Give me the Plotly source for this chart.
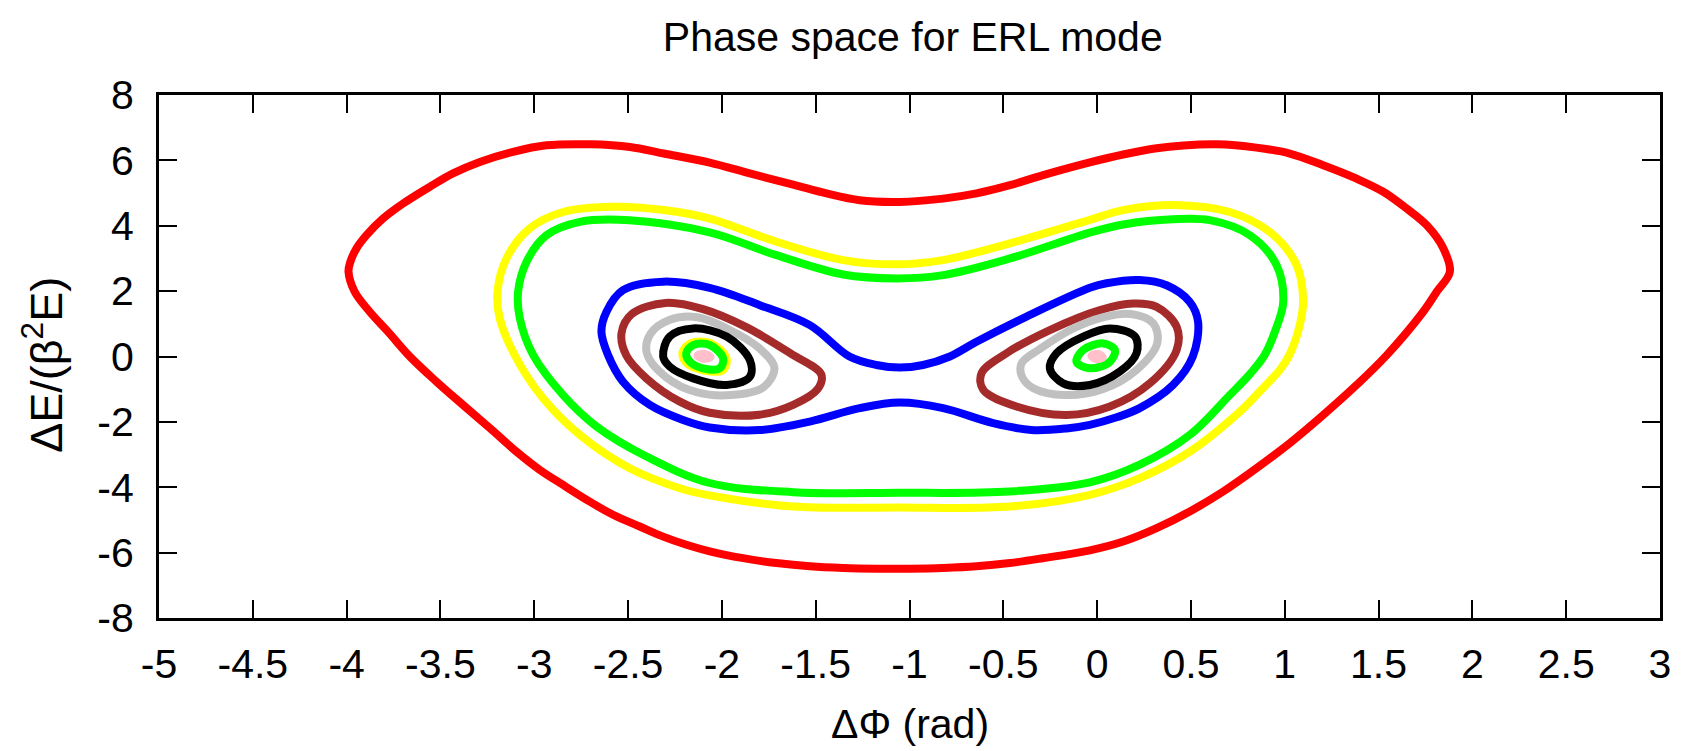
import plotly.graph_objects as go

# ---- data (phase-space trajectories) ----
red_x = [-3.99, -3.98, -3.948, -3.894, -3.806, -3.699, -3.557, -3.433, -3.29, -3.113, -2.935, -2.70, -2.49, -2.31, -2.065,
         -1.851, -1.62, -1.443, -1.265, -1.052, -0.821, -0.643, -0.465, -0.288, -0.039,
         0.139, 0.317, 0.459, 0.636, 0.849, 1.027, 1.205, 1.383, 1.525, 1.649, 1.756, 1.845, 1.88,
         1.81, 1.738, 1.54, 1.383, 1.205, 1.027, 0.849, 0.672, 0.494, 0.317, 0.139, -0.039,
         -0.288, -0.465, -0.643, -0.821, -0.998, -1.176, -1.354, -1.531, -1.709, -1.887, -2.065,
         -2.189, -2.313, -2.438, -2.58, -2.704, -2.846, -2.97, -3.095, -3.237, -3.38, -3.521, -3.66,
         -3.78, -3.877, -3.957, -3.99]
red_y = [2.59, 2.90, 3.30, 3.71, 4.22, 4.68, 5.19, 5.60, 5.95, 6.26, 6.46, 6.49, 6.41, 6.21, 5.93,
         5.60, 5.26, 4.99, 4.78, 4.73, 4.83, 4.99, 5.24, 5.55, 5.94,
         6.18, 6.37, 6.455, 6.49, 6.39, 6.21, 5.85, 5.44, 5.04, 4.53, 4.02, 3.31, 2.59,
         1.98, 1.37, 0.02, -0.87, -1.79, -2.65, -3.42, -4.13, -4.74, -5.25, -5.66, -5.93,
         -6.17, -6.32, -6.42, -6.47, -6.49, -6.49, -6.47, -6.42, -6.32, -6.17, -5.96,
         -5.76, -5.51, -5.20, -4.84, -4.44, -3.93, -3.47, -2.91, -2.19, -1.48, -0.77, -0.02,
         0.76, 1.37, 1.98, 2.59]

yellow_x = [-3.196, -3.148, -3.024, -2.846, -2.58, -2.31, -2.065, -1.709, -1.354, -1.07, -0.821, -0.465, -0.039, 0.139, 0.44, 0.707, 0.92, 1.063, 1.098, 1.075, 1.025, 0.975, 0.87, 0.76, 0.494, 0.227, -0.039, -0.465, -1.052, -1.62, -2.065, -2.224, -2.491, -2.757, -2.953, -3.10, -3.184, -3.196]
yellow_y = [1.98, 3.00, 3.92, 4.42, 4.58, 4.48, 4.22, 3.51, 2.95, 2.82, 2.95, 3.46, 4.18, 4.48, 4.63, 4.42, 3.81, 2.80, 1.67, 0.85, 0.05, -0.40, -1.05, -1.69, -2.91, -3.72, -4.23, -4.59, -4.62, -4.59, -4.25, -4.03, -3.42, -2.40, -1.28, 0.00, 1.17, 1.98]

green_x = [-3.086, -3.041, -2.935, -2.757, -2.491, -2.065, -1.709, -1.354, -1.07, -0.821, -0.465, -0.039, 0.139, 0.405, 0.601, 0.814, 0.956, 0.992, 0.95, 0.893, 0.82, 0.707, 0.494, 0.227, -0.039, -0.465, -1.052, -1.62, -2.065, -2.402, -2.668, -2.846, -3.006, -3.077, -3.086]
green_y = [1.98, 2.90, 3.71, 4.12, 4.17, 3.80, 3.10, 2.51, 2.39, 2.49, 3.00, 3.79, 4.04, 4.20, 4.17, 3.71, 2.80, 1.67, 0.80, 0.05, -0.50, -1.18, -2.40, -3.31, -3.85, -4.13, -4.17, -4.15, -3.87, -3.06, -2.14, -1.18, 0.05, 1.17, 1.98]

blue_x = [-2.313, -2.065, -1.798, -1.531, -1.32, -1.176, -1.052, -0.928, -0.785, -0.643, -0.376, -0.039, 0.05, 0.227, 0.37, 0.494, 0.538, 0.51, 0.405, 0.227, 0.104, -0.039, -0.163, -0.35, -0.554, -0.821, -1.052, -1.265, -1.531, -1.798, -2.065, -2.207, -2.384, -2.527, -2.607, -2.642, -2.615, -2.527, -2.313]
blue_y = [2.29, 2.10, 1.57, 0.96, 0.00, -0.26, -0.34, -0.26, 0.00, 0.45, 1.22, 2.10, 2.24, 2.34, 2.18, 1.67, 1.06, 0.00, -0.87, -1.58, -1.86, -2.09, -2.20, -2.25, -2.04, -1.58, -1.41, -1.58, -1.99, -2.25, -2.17, -1.94, -1.48, -0.77, 0.05, 0.76, 1.37, 2.03, 2.29]

brown_l_x = [-2.30, -2.10, -1.87, -1.63, -1.47, -1.49, -1.62, -1.80, -2.065, -2.224, -2.402, -2.509, -2.535, -2.48, -2.30]
brown_l_y = [1.64, 1.45, 0.90, 0.08, -0.55, -1.00, -1.48, -1.78, -1.72, -1.38, -0.67, 0.03, 0.71, 1.30, 1.64]
brown_r_x = [-0.616, -0.483, -0.252, 0.015, 0.192, 0.317, 0.424, 0.424, 0.281, 0.068, -0.163, -0.43, -0.607, -0.616]
brown_r_y = [-0.51, 0.10, 0.81, 1.42, 1.62, 1.52, 0.91, 0.20, -0.82, -1.53, -1.79, -1.53, -1.02, -0.51]

gray_l_x = [-2.40, -2.38, -2.28, -2.13, -1.97, -1.80, -1.72, -1.78, -1.95, -2.13, -2.30, -2.40]
gray_l_y = [0.10, 0.70, 1.12, 1.20, 0.85, 0.25, -0.35, -0.95, -1.18, -1.10, -0.62, 0.10]
gray_r_x = [-0.403, -0.30, -0.13, 0.03, 0.18, 0.30, 0.32, 0.21, 0.03, -0.17, -0.34, -0.40, -0.403]
gray_r_y = [-0.21, 0.25, 0.85, 1.20, 1.30, 1.01, 0.40, -0.41, -1.00, -1.18, -0.97, -0.62, -0.21]

black_l_x = [-2.313, -2.278, -2.153, -1.975, -1.851, -1.851, -1.975, -2.153, -2.278, -2.313]
black_l_y = [0.00, 0.61, 0.86, 0.61, -0.11, -0.62, -0.87, -0.67, -0.31, 0.00]
black_r_x = [-0.216, -0.074, 0.068, 0.202, 0.21, 0.121, -0.039, -0.181, -0.252, -0.216]
black_r_y = [0.10, 0.61, 0.86, 0.61, 0.10, -0.46, -0.87, -0.82, -0.36, 0.10]

yellow_s_x = [-2.21, -2.165, -2.06, -1.975, -1.995, -2.10, -2.19, -2.21]
yellow_s_y = [0.12, 0.41, 0.41, -0.06, -0.42, -0.42, -0.19, 0.12]
green_sl_x = [-2.19, -2.153, -2.065, -1.993, -2.011, -2.10, -2.17, -2.19]
green_sl_y = [0.10, 0.35, 0.35, -0.06, -0.36, -0.36, -0.16, 0.10]
green_sr_x = [-0.11, -0.074, 0.033, 0.095, 0.068, -0.039, -0.11]
green_sr_y = [-0.16, 0.20, 0.40, 0.20, -0.16, -0.36, -0.16]

pink_l_x = [-2.13, -2.09, -2.06, -2.10, -2.13]
pink_l_y = [0.03, 0.08, -0.02, -0.07, 0.03]
pink_r_x = [-0.03, 0.01, 0.03, -0.01, -0.03]
pink_r_y = [0.03, 0.07, -0.03, -0.07, 0.03]

x_tick_vals = [-5, -4.5, -4, -3.5, -3, -2.5, -2, -1.5, -1, -0.5, 0, 0.5, 1, 1.5, 2, 2.5, 3]
x_tick_text = ["-5", "-4.5", "-4", "-3.5", "-3", "-2.5", "-2", "-1.5", "-1", "-0.5", "0", "0.5", "1", "1.5", "2", "2.5", "3"]
y_tick_vals = [-8, -6, -4, -2, 0, 2, 4, 6, 8]
y_tick_text = ["-8", "-6", "-4", "-2", "0", "2", "4", "6", "8"]

curves = [
    (red_x, red_y, "#ff0000"),
    (yellow_x, yellow_y, "#ffff00"),
    (green_x, green_y, "#00ff00"),
    (blue_x, blue_y, "#0000ff"),
    (brown_l_x, brown_l_y, "#a52a2a"),
    (brown_r_x, brown_r_y, "#a52a2a"),
    (gray_l_x, gray_l_y, "#c0c0c0"),
    (gray_r_x, gray_r_y, "#c0c0c0"),
    (black_l_x, black_l_y, "#000000"),
    (black_r_x, black_r_y, "#000000"),
    (yellow_s_x, yellow_s_y, "#ffff00"),
    (green_sl_x, green_sl_y, "#00ff00"),
    (green_sr_x, green_sr_y, "#00ff00"),
    (pink_l_x, pink_l_y, "#ffc0cb"),
    (pink_r_x, pink_r_y, "#ffc0cb"),
]

fig = go.Figure()
for cx, cy, col in curves:
    fig.add_trace(go.Scatter(x=cx, y=cy, mode="lines",
                             line=dict(color=col, width=8, shape="spline", smoothing=1.0),
                             showlegend=False, hoverinfo="skip"))

FONT = "Liberation Sans, Arial, sans-serif"
axis_common = dict(showline=True, linecolor="black", linewidth=3, mirror="allticks",
                   ticks="inside", ticklen=18, tickwidth=2, tickcolor="black",
                   showgrid=False, zeroline=False, tickmode="array", automargin=False,
                   tickfont=dict(family=FONT, size=41, color="black"))

fig.update_layout(
    width=1681, height=751,
    margin=dict(l=159, r=21, t=95, b=133),
    paper_bgcolor="white", plot_bgcolor="white",
    title=dict(text="Phase space for ERL mode", x=0.543, xanchor="center",
               y=1 - 37 / 751, yanchor="middle",
               font=dict(family=FONT, size=41, color="black")),
    xaxis=dict(range=[-5, 3], tickvals=x_tick_vals, ticktext=x_tick_text,
               ticklabelstandoff=8, **axis_common),
    yaxis=dict(range=[-8, 8], tickvals=y_tick_vals, ticktext=y_tick_text,
               ticklabelstandoff=14, **axis_common),
    annotations=[
        dict(text="ΔE/(β<sup>2</sup>E)", textangle=-90, showarrow=False,
             xref="paper", yref="paper", x=-0.0773, y=0.484,
             xanchor="center", yanchor="middle",
             font=dict(family=FONT, size=45, color="black")),
        dict(text="ΔΦ (rad)", showarrow=False,
             xref="paper", yref="paper", x=0.5, y=-0.203,
             xanchor="center", yanchor="middle",
             font=dict(family=FONT, size=41, color="black")),
    ],
)

fig.write_html("out.html")
